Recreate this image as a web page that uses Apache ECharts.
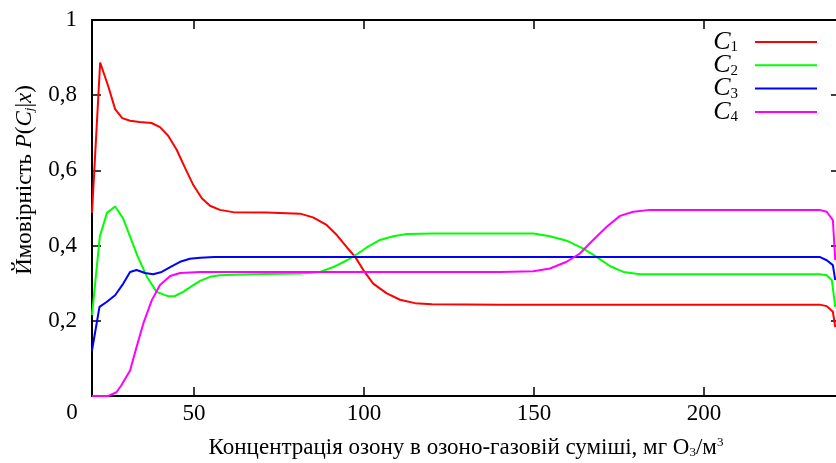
<!DOCTYPE html>
<html>
<head>
<meta charset="utf-8">
<script src="https://cdn.jsdelivr.net/npm/echarts@6/dist/echarts.min.js"></script>
<style>
  html, body { margin: 0; padding: 0; background: #fff; }
  #chart { width: 836px; height: 463px; }
</style>
</head>
<body>
<div id="chart"></div>
<script>
// Posterior probabilities P(Cj|x) of the four classes vs ozone concentration
const xTickValues = [50, 100, 150, 200];

const c1X = [20, 22.4, 24.8, 26.8, 28.9, 31.2, 34, 37.5, 40, 42.4, 44.9, 47.4, 49.8, 52.3, 54.7, 57.6, 61.5, 71.3, 81.2, 85, 89, 92, 95, 97.4, 99.8, 102.7, 106.7, 110.6, 115, 120, 140, 200, 234, 236.1, 237.9, 238.6];
const c1Y = [0.487, 0.887, 0.823, 0.763, 0.739, 0.732, 0.729, 0.726, 0.715, 0.692, 0.655, 0.606, 0.561, 0.526, 0.506, 0.495, 0.489, 0.488, 0.485, 0.475, 0.455, 0.428, 0.395, 0.370, 0.335, 0.299, 0.273, 0.256, 0.247, 0.244, 0.243, 0.243, 0.243, 0.239, 0.224, 0.183];

const c2X = [20, 22.3, 24.4, 26.8, 29.1, 31.2, 33.4, 36.1, 39, 42.5, 44.4, 46.8, 49.8, 51.8, 54.7, 57.6, 66.5, 81.2, 87.1, 91, 95, 97.9, 100.8, 104.7, 108.6, 112.6, 120.4, 149.8, 154.7, 159.6, 164.5, 168.4, 172.4, 176.3, 181.2, 228, 234, 236.1, 237.6, 238.6];
const c2Y = [0.215, 0.424, 0.487, 0.504, 0.473, 0.424, 0.372, 0.318, 0.277, 0.265, 0.266, 0.277, 0.295, 0.306, 0.317, 0.321, 0.324, 0.326, 0.330, 0.343, 0.361, 0.377, 0.395, 0.415, 0.425, 0.431, 0.432, 0.432, 0.425, 0.413, 0.392, 0.370, 0.345, 0.330, 0.324, 0.324, 0.324, 0.321, 0.308, 0.237];

const c3X = [20, 22.2, 24.3, 26.8, 29.2, 31.2, 33.1, 35.6, 38, 40.5, 43, 45.9, 48.8, 51.8, 56, 60, 234, 236.1, 237.9, 238.6];
const c3Y = [0.121, 0.237, 0.250, 0.268, 0.299, 0.330, 0.335, 0.327, 0.324, 0.330, 0.343, 0.357, 0.365, 0.368, 0.370, 0.370, 0.370, 0.361, 0.348, 0.308];

const c4X = [20, 24.8, 27.2, 28.6, 31.2, 33.1, 35.1, 37.6, 40, 43, 45.9, 51.8, 60, 140, 149.8, 154.7, 159.6, 163.5, 167.4, 171.4, 175.3, 179.2, 184.1, 228, 234, 236.1, 237.9, 238.6];
const c4Y = [0.0, 0.0, 0.01, 0.028, 0.068, 0.130, 0.193, 0.255, 0.295, 0.319, 0.327, 0.330, 0.330, 0.330, 0.332, 0.339, 0.357, 0.379, 0.415, 0.450, 0.479, 0.490, 0.495, 0.495, 0.495, 0.490, 0.468, 0.361];

const seriesNames = ['C1', 'C2', 'C3', 'C4'];
const seriesColors = ['#ff0000', '#00ff00', '#0000ff', '#ff00ff'];

const FONT = 'Liberation Serif, Times New Roman, serif';

function pairs(xs, ys) { return xs.map((x, i) => [x, ys[i]]); }
const seriesData = [pairs(c1X, c1Y), pairs(c2X, c2Y), pairs(c3X, c3Y), pairs(c4X, c4Y)];

const chart = echarts.init(document.getElementById('chart'), null, { renderer: 'canvas' });

const axisLineStyle = { color: '#000', width: 2 };
const tickStyle = { color: '#000', width: 1.5 };

chart.setOption({
  animation: false,
  backgroundColor: '#fff',
  grid: { left: 92, top: 20, right: -4, bottom: 67, containLabel: false, outerBoundsMode: 'none' },
  xAxis: [
    {
      type: 'value', min: 20, max: 240, position: 'bottom',
      axisLine: { show: true, onZero: false, lineStyle: axisLineStyle },
      axisTick: { show: true, inside: true, length: 9, lineStyle: tickStyle, customValues: xTickValues },
      axisLabel: { show: true, customValues: xTickValues, color: '#000', fontFamily: FONT, fontSize: 23, margin: 6 },
      splitLine: { show: false },
      name: 'Концентрація озону в озоно-газовій суміші, мг O{sub|3}/м{sup|3}',
      nameLocation: 'middle', nameGap: 40,
      nameTextStyle: {
        color: '#000', fontFamily: FONT, fontSize: 23,
        rich: {
          sub: { fontFamily: FONT, fontSize: 13, color: '#000', verticalAlign: 'bottom' },
          sup: { fontFamily: FONT, fontSize: 13, color: '#000', verticalAlign: 'top' }
        }
      }
    },
    {
      type: 'value', min: 20, max: 240, position: 'top',
      axisLine: { show: true, onZero: false, lineStyle: axisLineStyle },
      axisTick: { show: true, inside: true, length: 9, lineStyle: tickStyle, customValues: xTickValues },
      axisLabel: { show: false },
      splitLine: { show: false }
    }
  ],
  yAxis: [
    {
      type: 'value', min: 0, max: 1, interval: 0.2, position: 'left',
      axisLine: { show: true, onZero: false, lineStyle: axisLineStyle },
      axisTick: { show: true, inside: true, length: 9, lineStyle: tickStyle },
      axisLabel: {
        color: '#000', fontFamily: FONT, fontSize: 23, margin: 15,
        formatter: v => (v === 0 ? '' : (v === 1 ? '1' : v.toFixed(1).replace('.', ',')))
      },
      splitLine: { show: false }
    },
    {
      type: 'value', min: 0, max: 1, interval: 0.2, position: 'right',
      axisLine: { show: true, onZero: false, lineStyle: axisLineStyle },
      axisTick: { show: true, inside: true, length: 9, lineStyle: tickStyle },
      axisLabel: { show: false },
      splitLine: { show: false }
    }
  ],
  legend: {
    orient: 'vertical', right: 19, top: 29, align: 'right', padding: 0,
    itemWidth: 62, itemHeight: 2, itemGap: -2.7, icon: 'rect',
    data: seriesNames,
    formatter: n => '{c|C}{s|' + n.slice(1) + '}',
    textStyle: {
      padding: [0, 12, 0, 0],
      fontSize: 26, fontFamily: FONT,
      rich: {
        c: { fontFamily: FONT, fontStyle: 'italic', fontSize: 26, color: '#000', lineHeight: 26 },
        s: { fontFamily: FONT, fontSize: 15, color: '#000', verticalAlign: 'bottom', lineHeight: 14 }
      }
    }
  },
  graphic: [
    {
      type: 'text', x: 25, y: 180, rotation: Math.PI / 2,
      style: {
        text: '{n|Ймовірність }{i|P}{n|(}{i|C}{sub|j}{n||}{i|x}{n|)}',
        align: 'center', verticalAlign: 'middle',
        rich: {
          n: { fontFamily: FONT, fontSize: 23, fill: '#000' },
          i: { fontFamily: FONT, fontSize: 23, fontStyle: 'italic', fill: '#000' },
          sub: { fontFamily: FONT, fontSize: 13, fontStyle: 'italic', fill: '#000', verticalAlign: 'bottom' }
        }
      }
    },
    {
      type: 'text', x: 72, y: 413,
      style: { text: '0', align: 'center', verticalAlign: 'middle', fontFamily: FONT, fontSize: 23, fill: '#000' }
    }
  ],
  series: seriesNames.map((name, k) => ({
    name: name,
    type: 'line',
    xAxisIndex: 0, yAxisIndex: 0,
    data: seriesData[k],
    showSymbol: false,
    symbol: 'none',
    clip: true,
    color: seriesColors[k],
    lineStyle: { color: seriesColors[k], width: 2 }
  }))
});
</script>
</body>
</html>
